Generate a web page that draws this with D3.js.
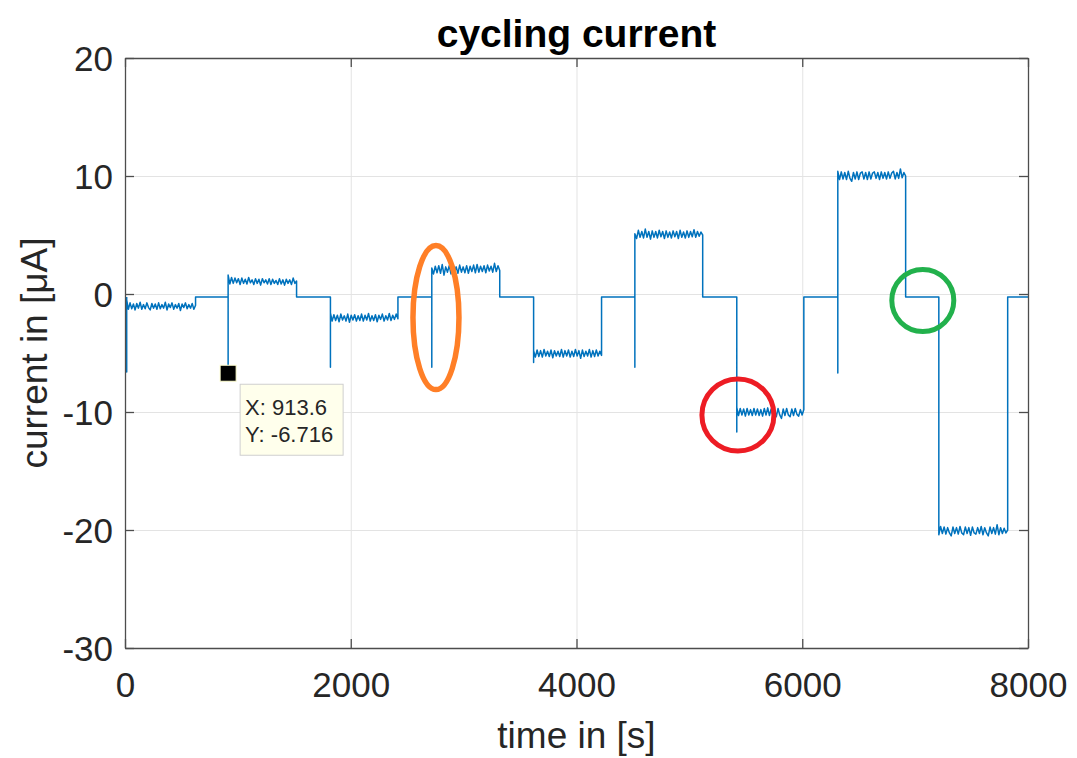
<!DOCTYPE html>
<html>
<head>
<meta charset="utf-8">
<script src="https://cdn.jsdelivr.net/npm/d3@7/dist/d3.min.js"></script>
<style>
  body { margin: 0; background: #fff; }
  svg { display: block; font-family: "Liberation Sans", Arial, Helvetica, sans-serif; }
</style>
</head>
<body>
<div id="chart"></div>
<script>
// step timing (s) and the dip seen at the start of every step
const stepStart = [15, 913.6, 1820, 2718, 3620, 4517, 5420, 6315, 7210];
const stepEnd   = [625, 1520, 2418, 3320, 4222, 5118, 6014, 6916, 7820];
const spikeMin  = [-6.6, -6.716, -6.2, -6.2, -5.8, -6.2, -11.7, -6.7, -20.4];
const restLevel = -0.25;
const endTime = 8000;

// current samples (µA)
const seg1 = [-0.5,-1.3,-0.75,-1.25,-0.85,-1.35,-0.8,-1.2,-0.7,-1.3,-0.9,-1.25,-0.75,-1.15,-1.35,-0.8,-1.2,-0.85,-1.3,-0.75,-1.25,-0.9,-1.2,-0.7,-1.35,-0.85,-1.15,-0.75,-1.3,-0.9,-1.2,-0.8,-1.4,-0.85,-1.15,-0.75,-1.25,-0.9,-1.2,-0.8,-1.3,-0.95];
const seg2 = [1.6,0.85,1.4,0.9,1.35,0.95,1.3,0.8,1.35,0.9,1.25,0.85,1.4,0.95,1.2,0.8,1.3,0.9,1.25,0.75,1.3,0.95,1.2,0.85,1.3,0.8,1.25,0.9,1.15,0.8,1.3,0.85,1.2,0.75,1.25,0.9,1.2,0.8,1.35,0.9,1.1];
const seg3 = [-1.6,-2.3,-1.75,-2.25,-1.8,-2.35,-1.7,-2.2,-1.85,-2.3,-1.7,-2.4,-1.8,-2.2,-1.75,-2.3,-1.85,-2.25,-1.7,-2.3,-1.8,-2.2,-1.65,-2.3,-1.85,-2.25,-1.75,-2.35,-1.8,-2.15,-1.7,-2.3,-1.85,-2.2,-1.65,-2.25,-1.8,-2.15,-1.7,-2.1];
const seg4 = [2.2,1.7,2.35,1.8,2.4,1.75,2.5,1.6,2.3,1.85,2.4,1.7,2.35,1.9,2.3,1.75,2.45,1.85,2.3,1.8,2.4,1.75,2.35,1.9,2.45,1.8,2.5,1.85,2.35,1.9,2.4,1.8,2.45,1.95,2.35,1.85,2.6,1.9,2.4,2.0];
const seg5 = [-4.8,-5.35,-4.75,-5.3,-4.8,-5.35,-4.7,-5.25,-4.85,-5.3,-4.75,-5.4,-4.8,-5.25,-4.85,-5.3,-4.7,-5.35,-4.8,-5.25,-4.75,-5.35,-4.85,-5.3,-4.7,-5.25,-4.8,-5.45,-4.75,-5.3,-4.85,-5.25,-4.7,-5.35,-4.8,-5.3,-4.75,-5.25,-4.85,-5.2];
const seg6 = [5.1,4.7,5.4,4.8,5.3,4.75,5.5,4.8,5.3,4.65,5.35,4.8,5.3,4.75,5.4,4.85,5.3,4.7,5.35,4.8,5.25,4.75,5.35,4.85,5.3,4.7,5.4,4.8,5.25,4.75,5.35,4.8,5.3,4.85,5.45,4.8,5.3,4.9,5.25,5.0];
const seg7 = [-9.6,-10.3,-9.7,-10.25,-9.75,-10.35,-9.7,-10.25,-9.8,-10.3,-9.7,-10.25,-9.75,-10.3,-9.8,-10.35,-9.7,-10.25,-9.65,-10.3,-9.75,-10.25,-9.8,-10.4,-9.7,-10.25,-10.55,-9.75,-10.3,-9.7,-10.25,-10.4,-9.75,-10.3,-9.7,-10.2,-10.35,-9.8,-10.25,-9.8];
const seg8 = [10.4,9.7,10.35,9.75,10.3,9.7,10.4,9.8,9.55,10.3,9.75,10.35,9.7,10.25,10.35,9.75,10.3,9.7,10.35,9.75,10.25,10.35,9.8,10.3,9.7,10.35,9.8,10.3,9.75,10.35,9.8,10.25,10.4,9.75,10.3,9.8,10.6,9.85,10.3,10.0];
const seg9 = [-20.4,-19.7,-20.3,-19.75,-20.35,-19.8,-20.25,-20.5,-19.75,-20.3,-19.8,-20.35,-19.7,-20.25,-20.4,-19.75,-20.3,-19.8,-20.45,-19.75,-20.25,-20.35,-19.8,-20.3,-19.7,-20.4,-19.8,-20.25,-20.5,-19.75,-20.3,-19.8,-20.35,-19.55,-20.4,-19.8,-20.3,-19.85,-20.25,-20.0];
const segments = [seg1, seg2, seg3, seg4, seg5, seg6, seg7, seg8, seg9];

const xTicks = [0, 2000, 4000, 6000, 8000];
const yTicks = [-30, -20, -10, 0, 10, 20];

// data tip and hand-drawn marks (data coordinates)
const tip = { t: 913.6, v: -6.716 };
const marks = [
  { t: 2755, v: -2.0, rx: 23, ry: 72, color: "#ff7f27", w: 5.5 },
  { t: 5430, v: -10.25, rx: 36, ry: 36, color: "#ed1c24", w: 5 },
  { t: 7068, v: -0.55, rx: 31, ry: 31, color: "#22b14c", w: 5 }
];

// build the trace
const points = [];
stepStart.forEach((t0, i) => {
  const t1 = stepEnd[i];
  const vals = segments[i];
  const dt = (t1 - t0) / (vals.length - 1);
  points.push([t0, restLevel]);
  points.push([t0, spikeMin[i]]);
  vals.forEach((v, j) => points.push([t0 + j * dt, v]));
  points.push([t1, restLevel]);
});
points.push([endTime, restLevel]);

const width = 1077, height = 758;
const margin = { left: 125, top: 58, right: 49, bottom: 110 };
const w = width - margin.left - margin.right;
const h = height - margin.top - margin.bottom;

const x = d3.scaleLinear().domain([0, 8000]).range([0, w]);
const y = d3.scaleLinear().domain([-30, 20]).range([h, 0]);
const fmt = d => String(d); // plain hyphen minus, like the original

const svg = d3.select("#chart").append("svg")
  .attr("width", width).attr("height", height);

const g = svg.append("g").attr("transform", `translate(${margin.left},${margin.top})`);

// grid
g.append("g").attr("class", "grid")
  .call(d3.axisLeft(y).tickValues(yTicks).tickSize(-w).tickFormat(""))
  .call(s => s.select(".domain").remove())
  .call(s => s.selectAll("line").attr("stroke", "#e3e3e3").attr("stroke-width", 1));
g.append("g").attr("class", "grid")
  .call(d3.axisBottom(x).tickValues(xTicks).tickSize(h).tickFormat(""))
  .call(s => s.select(".domain").remove())
  .call(s => s.selectAll("line").attr("stroke", "#e3e3e3").attr("stroke-width", 1));

// trace
g.append("clipPath").attr("id", "clip")
  .append("rect").attr("width", w).attr("height", h);

const line = d3.line().x(d => x(d[0])).y(d => y(d[1]));
g.append("path")
  .datum(points)
  .attr("clip-path", "url(#clip)")
  .attr("fill", "none")
  .attr("stroke", "#0072bd")
  .attr("stroke-width", 1.5)
  .attr("stroke-linejoin", "round")
  .attr("d", line);

// axes with inward ticks
const axisColor = "#4d4d4d";
function styleAxis(s) {
  s.select(".domain").attr("stroke", axisColor).attr("stroke-width", 1.3);
  s.selectAll(".tick line").attr("stroke", axisColor).attr("stroke-width", 1.3);
  s.selectAll(".tick text").attr("fill", "#262626").style("font-size", "35px");
}
g.append("g")
  .call(d3.axisLeft(y).tickValues(yTicks).tickSizeInner(-9).tickSizeOuter(0).tickPadding(12).tickFormat(fmt))
  .call(styleAxis)
  .call(s => s.selectAll(".tick text").attr("dy", "0.36em"));
g.append("g").attr("transform", `translate(${w},0)`)
  .call(d3.axisRight(y).tickValues(yTicks).tickSizeInner(-9).tickSizeOuter(0).tickFormat(""))
  .call(styleAxis);
g.append("g").attr("transform", `translate(0,${h})`)
  .call(d3.axisBottom(x).tickValues(xTicks).tickSizeInner(-9).tickSizeOuter(0).tickPadding(24).tickFormat(fmt))
  .call(styleAxis)
  .call(s => s.selectAll(".tick text").attr("dy", "0.72em"));
g.append("g")
  .call(d3.axisTop(x).tickValues(xTicks).tickSizeInner(-9).tickSizeOuter(0).tickFormat(""))
  .call(styleAxis);

// labels
svg.append("text")
  .attr("x", margin.left + w / 2).attr("y", 47)
  .attr("text-anchor", "middle")
  .style("font-size", "39px").style("font-weight", "bold").attr("fill", "#000")
  .text("cycling current");
svg.append("text")
  .attr("x", margin.left + w / 2).attr("y", 748)
  .attr("text-anchor", "middle")
  .style("font-size", "37px").attr("fill", "#262626")
  .text("time in [s]");
svg.append("text")
  .attr("transform", `translate(47,${margin.top + h / 2}) rotate(-90)`)
  .attr("text-anchor", "middle")
  .style("font-size", "37px").attr("fill", "#262626")
  .text("current in [μA]");

// data tip
const tx = x(tip.t), ty = y(tip.v);
g.append("rect")
  .attr("x", tx - 8).attr("y", ty - 8).attr("width", 16).attr("height", 16)
  .attr("fill", "#000").attr("stroke", "#ffffd0").attr("stroke-width", 1);
const tipBox = g.append("g").attr("transform", `translate(${tx + 12},${ty + 11})`);
tipBox.append("rect")
  .attr("width", 103).attr("height", 71)
  .attr("fill", "#ffffec").attr("stroke", "#cfcfcf").attr("stroke-width", 1);
tipBox.append("text").attr("x", 5).attr("y", 31)
  .style("font-size", "22px").attr("fill", "#262626")
  .text(`X: ${tip.t}`);
tipBox.append("text").attr("x", 5).attr("y", 58)
  .style("font-size", "22px").attr("fill", "#262626")
  .text(`Y: ${tip.v}`);

// hand-drawn highlight ellipses
g.selectAll("ellipse.mark")
  .data(marks)
  .join("ellipse")
  .attr("class", "mark")
  .attr("cx", d => x(d.t)).attr("cy", d => y(d.v))
  .attr("rx", d => d.rx).attr("ry", d => d.ry)
  .attr("fill", "none")
  .attr("stroke", d => d.color)
  .attr("stroke-width", d => d.w);
</script>
</body>
</html>
